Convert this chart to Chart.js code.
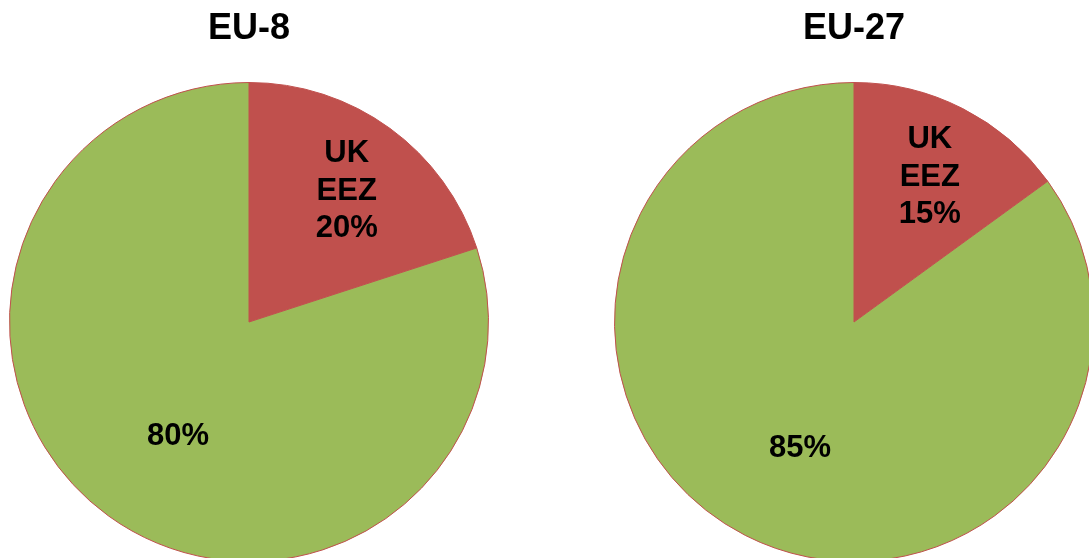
<!DOCTYPE html>
<html><head><meta charset="utf-8">
<script src="https://cdn.jsdelivr.net/npm/chart.js@4"></script>
<style>
html,body{margin:0;padding:0;background:#fff;overflow:hidden;width:1089px;height:558px;}
.box{position:absolute;top:0;width:498px;height:600px;}
</style></head><body>
<div class="box" style="left:0px"><canvas id="c1" width="498" height="600"></canvas></div>
<div class="box" style="left:605px"><canvas id="c2" width="498" height="600"></canvas></div>
<script>
const categories = ['UK EEZ', 'Other'];
const titles = ['EU-8', 'EU-27'];
const valuesEU8 = [20, 80];
const valuesEU27 = [15, 85];
const sliceLabels8 = [['UK','EEZ','20%'], ['80%']];
const sliceLabels27 = [['UK','EEZ','15%'], ['85%']];
const colors = ['#C0504D', '#9BBB59'];

function makeChart(id, title, values, labels, place) {
  const labelPlugin = {
    id: 'lbl',
    afterDatasetsDraw(chart) {
      const ctx = chart.ctx;
      ctx.save();
      ctx.fillStyle = '#000';
      ctx.textAlign = 'center';
      ctx.textBaseline = 'middle';
      ctx.font = 'bold 36px "Liberation Sans", Arial, sans-serif';
      ctx.fillText(title, 249, 29);
      ctx.font = 'bold 31px "Liberation Sans", Arial, sans-serif';
      const meta = chart.getDatasetMeta(0);
      meta.data.forEach((arc, i) => {
        const [t, f] = place[i];
        const a = arc.startAngle + (arc.endAngle - arc.startAngle) * t;
        const r = arc.outerRadius * f;
        const x = arc.x + Math.cos(a) * r;
        const y = arc.y + Math.sin(a) * r;
        const lines = labels[i];
        const lh = 37.5;
        lines.forEach((s, j) => {
          ctx.fillText(s, x, y + 1 + (j - (lines.length - 1) / 2) * lh);
        });
      });
      ctx.restore();
    }
  };
  new Chart(document.getElementById(id), {
    type: 'pie',
    data: { labels: categories, datasets: [{ data: values, backgroundColor: colors, borderColor: '#C0504D', borderWidth: 1 }] },
    options: {
      responsive: false, animation: false,
      layout: { padding: { left: 9, right: 9, top: 82, bottom: 38 } },
      plugins: { legend: { display: false }, tooltip: { enabled: false }, title: { display: false } }
    },
    plugins: [labelPlugin]
  });
}
makeChart('c1', titles[0], valuesEU8, sliceLabels8, [[0.508, 0.685], [0.486, 0.56]]);
makeChart('c2', titles[1], valuesEU27, sliceLabels27, [[0.509, 0.686], [0.488, 0.569]]);
</script>
</body></html>
